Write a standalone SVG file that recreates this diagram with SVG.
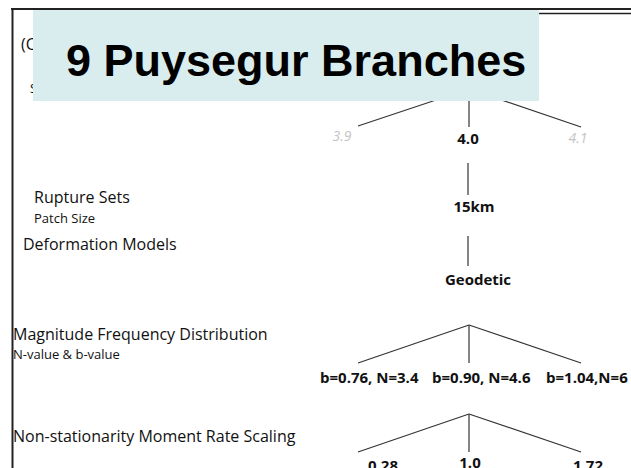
<svg xmlns="http://www.w3.org/2000/svg" width="631" height="468" viewBox="0 0 631 468">
  <style>
    .lbl { font-family: "Open Sans", "Noto Sans", sans-serif; fill: #111; }
    .big { font-size: 16px; }
    .sub { font-size: 13px; }
    .val { font-family: "Open Sans", "Noto Sans", sans-serif; font-size: 15px; font-weight: bold; fill: #111; }
    .alt { font-family: "Open Sans", "Noto Sans", sans-serif; font-size: 14px; font-style: italic; fill: #c4c4c4; }
    .edge { stroke: #333; stroke-width: 1.2; fill: none; }
    .frame { stroke: #222; fill: none; }
  </style>
  <rect width="631" height="468" fill="#ffffff"/>

  <!-- outer frame -->
  <g id="frame">
    <line class="frame" x1="11" y1="9" x2="631" y2="9" stroke-width="2"/>
    <line class="frame" x1="300" y1="13.5" x2="631" y2="13.5" stroke-width="1.5"/>
    <line class="frame" x1="12.5" y1="8" x2="12.5" y2="468" stroke-width="2"/>
  </g>

  <!-- level captions on the left -->
  <g id="captions">
    <text class="lbl big" x="21" y="50">(C</text>
    <text class="lbl sub" x="30" y="93">S</text>
    <text class="lbl big" x="34" y="203">Rupture Sets</text>
    <text class="lbl sub" x="34" y="223">Patch Size</text>
    <text class="lbl big" x="23" y="250">Deformation Models</text>
    <text class="lbl big" x="13" y="340">Magnitude Frequency Distribution</text>
    <text class="lbl sub" x="13" y="359">N-value &amp; b-value</text>
    <text class="lbl big" x="13" y="442">Non-stationarity Moment Rate Scaling</text>
  </g>

  <!-- tree connectors -->
  <g id="connectors">
    <line class="edge" x1="469" y1="89" x2="358" y2="126"/>
    <line class="edge" x1="469" y1="89" x2="469" y2="127"/>
    <line class="edge" x1="469" y1="89" x2="581" y2="127"/>
    <line class="edge" x1="468" y1="163" x2="468" y2="195"/>
    <line class="edge" x1="468" y1="236" x2="468" y2="266"/>
    <line class="edge" x1="469" y1="325" x2="358" y2="363"/>
    <line class="edge" x1="469" y1="325" x2="469" y2="363"/>
    <line class="edge" x1="469" y1="325" x2="581" y2="363"/>
    <line class="edge" x1="469" y1="414" x2="358" y2="452"/>
    <line class="edge" x1="469" y1="414" x2="469" y2="452"/>
    <line class="edge" x1="469" y1="414" x2="581" y2="452"/>
  </g>

  <!-- tree nodes -->
  <g id="node-magnitude-scaling">
    <text class="alt" x="342" y="141" text-anchor="middle">3.9</text>
    <text class="val" x="468" y="144" text-anchor="middle">4.0</text>
    <text class="alt" x="578" y="143" text-anchor="middle">4.1</text>
  </g>
  <g id="node-patch-size">
    <text class="val" x="474" y="212" text-anchor="middle">15km</text>
  </g>
  <g id="node-deformation">
    <text class="val" x="478" y="285" text-anchor="middle">Geodetic</text>
  </g>
  <g id="node-mfd">
    <text class="val" x="320" y="383">b=0.76, N=3.4</text>
    <text class="val" x="432" y="383">b=0.90, N=4.6</text>
    <text class="val" x="546" y="383">b=1.04,N=6</text>
  </g>
  <g id="node-moment-rate">
    <text class="val" x="368" y="471">0.28</text>
    <text class="val" x="470" y="468" text-anchor="middle">1.0</text>
    <text class="val" x="573" y="471">1.72</text>
  </g>

  <!-- title banner -->
  <g id="title">
    <rect x="33" y="10" width="506" height="91" fill="#d9edef"/>
    <text x="66" y="76" font-family="'Liberation Sans', Arial, sans-serif" font-size="45" font-weight="bold" fill="#000">9 Puysegur Branches</text>
  </g>
</svg>
